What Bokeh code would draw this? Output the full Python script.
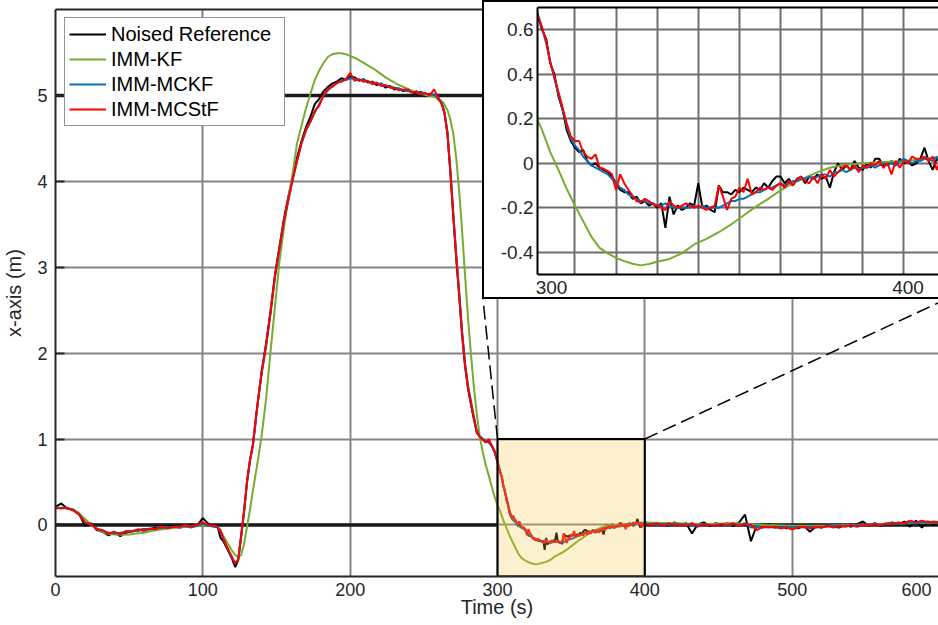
from bokeh.plotting import figure
from bokeh.models import Range1d, FixedTicker, LinearAxis
from bokeh.embed import file_html
from bokeh.resources import INLINE

# ---------------- data ----------------
# sampling instants of the noised reference and of the MCKF / MCStF estimates
T_EST = [*range(0, 109, 4), *range(110, 141, 2), *range(143, 261, 3),
         *range(262, 301, 2), *range(301, 401), *range(404, 601, 4)]

NOISED_REF = [
    0.21, 0.25, 0.19, 0.18, 0.13, -0.01, 0.02, -0.06, -0.08, -0.12, -0.09, -0.13, -0.09, -0.07,
    -0.06, -0.05, -0.05, -0.03, -0.04, -0.03, -0.01, -0.03, -0.02, -0.01, -0.01, 0.08, 0.01, -0.02,
    -0.02, -0.15, -0.19, -0.26, -0.33, -0.40, -0.49, -0.41, -0.13, 0.16, 0.50, 0.75, 0.94, 1.24, 1.53, 1.80,
    2.12, 2.50, 2.92, 3.24, 3.56, 3.82, 4.05, 4.28, 4.47, 4.63, 4.75, 4.90, 4.96, 5.05, 5.10, 5.14, 5.16, 5.20,
    5.18, 5.22, 5.21, 5.17, 5.19, 5.15, 5.16, 5.12, 5.14, 5.09, 5.11, 5.07, 5.08, 5.05, 5.06, 5.04, 5.02, 5.04,
    5.01, 5.02, 5.00, 4.95,
    4.92, 4.80, 4.55, 4.10, 3.58, 3.10, 2.66, 2.20, 1.84, 1.58, 1.40, 1.23, 1.07, 1.03, 1.00, 0.97, 0.98, 0.92,
    0.85, 0.74,
    0.66, 0.60, 0.56, 0.45, 0.40, 0.30, 0.24, 0.15, 0.10, 0.07,
    0.05, 0.06, 0.01, -0.01, 0.00, -0.02, -0.03, -0.04, -0.06, -0.09,
    -0.12, -0.13, -0.13, -0.16, -0.15, -0.18, -0.17, -0.19, -0.18, -0.20,
    -0.18, -0.29, -0.15, -0.23, -0.19, -0.21, -0.20, -0.18, -0.19, -0.09,
    -0.20, -0.19, -0.21, -0.22, -0.10, -0.13, -0.13, -0.14, -0.12, -0.13,
    -0.11, -0.12, -0.13, -0.11, -0.12, -0.09, -0.11, -0.08, -0.06, -0.06,
    -0.09, -0.07, -0.10, -0.07, -0.06, -0.09, -0.06, -0.07, -0.05, -0.07,
    -0.06, -0.11, -0.04, 0.00, -0.03, -0.01, -0.03, 0.01, -0.02, -0.03,
    0.00, -0.02, 0.02, 0.02, -0.01, 0.00, 0.01, -0.01, 0.02, 0.00,
    0.01, -0.01, 0.00, 0.02, 0.07, 0.01, -0.03, 0.02, 0.00, 0.03,
    0.02, 0.00, 0.01, -0.01, 0.03, 0.00, 0.02, -0.10, 0.01, 0.03,
    -0.01, 0.02, 0.00, 0.02, -0.01, 0.03, 0.12, -0.19, 0.00, -0.03,
    0.01, -0.03, -0.01, -0.04, -0.02, -0.04, -0.01, -0.08, -0.02, -0.03,
    0.00, -0.02, -0.03, 0.00, -0.02, 0.01, 0.04, -0.01, 0.02, -0.01,
    0.01, 0.03, 0.00, 0.04, -0.02, 0.05, -0.03, 0.04, 0.00, 0.05,
]

IMM_MCKF = [
    0.19, 0.20, 0.19, 0.17, 0.13, 0.03, 0.00, -0.04, -0.07, -0.09, -0.10, -0.09, -0.08, -0.07,
    -0.07, -0.05, -0.05, -0.04, -0.03, -0.03, -0.02, -0.02, -0.01, -0.03, -0.01, 0.01, -0.01, -0.02,
    -0.02, -0.07, -0.16, -0.24, -0.32, -0.39, -0.44, -0.41, -0.14, 0.15, 0.50, 0.74, 0.92, 1.23, 1.52, 1.77,
    2.09, 2.47, 2.89, 3.21, 3.53, 3.78, 4.02, 4.24, 4.44, 4.59, 4.70, 4.80, 4.90, 5.00, 5.06, 5.11, 5.14, 5.17,
    5.18, 5.20, 5.19, 5.18, 5.18, 5.16, 5.15, 5.14, 5.13, 5.11, 5.10, 5.09, 5.08, 5.06, 5.05, 5.04, 5.04, 5.03,
    5.02, 5.01, 5.01, 4.97,
    4.91, 4.81, 4.58, 4.14, 3.63, 3.15, 2.71, 2.25, 1.88, 1.62, 1.44, 1.26, 1.09, 1.03, 1.00, 0.97, 0.96, 0.92,
    0.86, 0.74,
    0.67, 0.61, 0.54, 0.46, 0.38, 0.31, 0.24, 0.17, 0.11, 0.08,
    0.06, 0.03, 0.01, -0.01, -0.02, -0.03, -0.04, -0.05, -0.07, -0.09,
    -0.11, -0.12, -0.14, -0.15, -0.16, -0.17, -0.17, -0.18, -0.18, -0.19,
    -0.19, -0.18, -0.19, -0.20, -0.20, -0.20, -0.20, -0.20, -0.19, -0.20,
    -0.19, -0.20, -0.20, -0.20, -0.20, -0.19, -0.18, -0.17, -0.17, -0.16,
    -0.16, -0.15, -0.14, -0.13, -0.13, -0.12, -0.11, -0.11, -0.10, -0.09,
    -0.10, -0.09, -0.08, -0.08, -0.07, -0.07, -0.06, -0.07, -0.06, -0.05,
    -0.05, -0.06, -0.04, -0.04, -0.03, -0.04, -0.03, -0.02, -0.03, -0.02,
    -0.02, -0.01, -0.02, -0.01, 0.00, -0.01, 0.00, -0.01, 0.01, 0.02,
    0.01, 0.00, 0.01, 0.01, 0.02, 0.02, 0.01, 0.03, -0.01, 0.01,
    0.01, 0.00, 0.01, 0.00, 0.01, 0.00, 0.01, -0.01, 0.00, 0.01,
    0.00, 0.00, 0.01, -0.01, 0.01, 0.00, 0.02, -0.03, -0.02, -0.03,
    -0.02, -0.03, -0.03, -0.02, -0.03, -0.02, -0.03, -0.02, -0.03, -0.02,
    -0.02, -0.01, -0.02, -0.01, -0.01, 0.00, -0.01, 0.00, 0.01, 0.00,
    0.01, 0.02, 0.01, 0.02, 0.03, 0.02, 0.03, 0.04, 0.03, 0.03,
]

IMM_MCSTF = [
    0.20, 0.19, 0.20, 0.17, 0.12, 0.03, 0.01, -0.05, -0.06, -0.10, -0.08, -0.11, -0.07, -0.08,
    -0.05, -0.07, -0.04, -0.05, -0.02, -0.04, -0.02, -0.03, 0.00, -0.02, 0.00, 0.03, 0.00, -0.01,
    -0.03, -0.06, -0.17, -0.24, -0.31, -0.38, -0.45, -0.40, -0.12, 0.17, 0.52, 0.76, 0.93, 1.25, 1.52, 1.78,
    2.10, 2.48, 2.90, 3.22, 3.54, 3.78, 4.03, 4.24, 4.45, 4.60, 4.69, 4.82, 4.88, 5.00, 5.08, 5.10, 5.15, 5.16,
    5.19, 5.26, 5.17, 5.19, 5.16, 5.17, 5.13, 5.15, 5.11, 5.12, 5.09, 5.09, 5.06, 5.07, 5.07, 5.03, 5.05, 5.01,
    5.03, 5.00, 5.07, 4.96,
    4.90, 4.79, 4.57, 4.12, 3.60, 3.12, 2.68, 2.22, 1.86, 1.60, 1.42, 1.24, 1.08, 1.02, 0.99, 0.96, 1.00, 0.93,
    0.86, 0.73,
    0.66, 0.61, 0.55, 0.45, 0.39, 0.32, 0.25, 0.18, 0.12, 0.10,
    0.10, 0.05, 0.03, 0.02, 0.04, -0.02, -0.025, -0.035, -0.05, -0.12,
    -0.05, -0.09, -0.12, -0.145, -0.17, -0.175, -0.16, -0.17, -0.185, -0.19,
    -0.20, -0.21, -0.17, -0.19, -0.20, -0.19, -0.18, -0.19, -0.20, -0.19,
    -0.20, -0.21, -0.20, -0.19, -0.10, -0.15, -0.21, -0.16, -0.15, -0.11,
    -0.13, -0.07, -0.14, -0.13, -0.11, -0.12, -0.11, -0.12, -0.10, -0.09,
    -0.11, -0.08, -0.10, -0.07, -0.06, -0.08, -0.09, -0.06, -0.09, -0.05,
    -0.07, -0.03, -0.06, -0.04, -0.02, -0.01, -0.03, -0.01, -0.04, -0.01,
    -0.02, 0.00, -0.01, 0.01, -0.02, 0.00, -0.05, 0.01, -0.02, 0.01,
    0.00, 0.03, 0.02, 0.02, 0.03, 0.01, 0.03, -0.03, 0.02, 0.01,
    0.00, 0.02, -0.01, 0.02, 0.00, 0.01, -0.01, 0.02, -0.02, 0.01,
    0.00, -0.01, 0.01, 0.00, 0.02, -0.01, 0.01, 0.00, -0.06, -0.02,
    -0.03, -0.02, -0.04, -0.03, -0.05, -0.03, -0.02, -0.04, -0.02, -0.03,
    -0.01, -0.03, -0.01, -0.02, 0.00, -0.02, 0.00, -0.01, 0.01, 0.00,
    0.02, 0.01, 0.03, 0.02, 0.05, 0.03, 0.05, 0.03, 0.04, 0.03,
]

# the smooth IMM-KF estimate, own sampling instants
T_KF = [0, 5, 10, 15, 20, 25, 30, 35, 40, 45,
        50, 55, 60, 65, 70, 75, 80, 85, 90, 95,
        100, 105, 110, 113, 116, 119, 122, 124, 126, 128,
        130, 132, 134, 136, 138, 140, 143, 146, 149, 152,
        155, 158, 161, 164, 167, 170, 173, 176, 179, 182,
        185, 188, 191, 194, 197, 200, 204, 208, 212, 216,
        220, 224, 228, 232, 236, 240, 244, 248, 252, 256,
        260, 263, 266, 268, 270, 272, 274, 276, 278, 280,
        282, 284, 286, 288, 290, 292, 294, 296, 298, 300,
        302, 304, 306, 308, 310, 312, 314, 316, 318, 320,
        322, 324, 326, 328, 330, 333, 336, 339, 342, 345,
        348, 351, 354, 357, 360, 363, 366, 369, 372, 375,
        380, 385, 390, 395, 400, 420, 440, 460, 480, 500,
        520, 540, 560, 580, 600]
IMM_KF = [0.20, 0.20, 0.19, 0.15, 0.07, -0.01, -0.07, -0.10, -0.11, -0.115,
          -0.11, -0.10, -0.09, -0.07, -0.055, -0.045, -0.035, -0.025, -0.02, -0.015,
          -0.01, -0.01, -0.03, -0.10, -0.19, -0.28, -0.35, -0.375, -0.35, -0.22,
          -0.02, 0.18, 0.40, 0.61, 0.82, 1.05, 1.48, 2.03, 2.55, 3.07,
          3.45, 3.80, 4.10, 4.45, 4.65, 4.85, 5.02, 5.18, 5.29, 5.38,
          5.45, 5.48, 5.49, 5.49, 5.48, 5.46, 5.43, 5.39, 5.35, 5.31,
          5.26, 5.21, 5.17, 5.13, 5.10, 5.07, 5.04, 5.02, 5.00, 4.99,
          4.96, 4.92, 4.83, 4.72, 4.55, 4.27, 3.88, 3.42, 2.90, 2.40,
          1.98, 1.60, 1.28, 1.02, 0.85, 0.70, 0.58, 0.45, 0.33, 0.23,
          0.15, 0.05, -0.03, -0.115, -0.19, -0.26, -0.33, -0.38, -0.405, -0.425,
          -0.44, -0.452, -0.459, -0.453, -0.443, -0.43, -0.405, -0.365, -0.34, -0.31,
          -0.275, -0.235, -0.195, -0.16, -0.122, -0.09, -0.065, -0.04, -0.02, -0.009,
          0.0, 0.006, 0.009, 0.02, 0.03, 0.02, 0.01, 0.02, 0.0, -0.01,
          -0.01, 0.0, 0.01, 0.02, 0.03]

SERIES_NAMES = ["Noised Reference", "IMM-KF", "IMM-MCKF", "IMM-MCStF"]
SERIES_COLORS = ["#000000", "#77AC30", "#0072BD", "#FF0000"]

REF_LEVELS = [0, 5]                 # thick reference lines
MAIN_YTICKS = [0, 1, 2, 3, 4, 5]
MAIN_XGRID = [100, 200, 300, 400, 500]
MAIN_XTICK_POS = [0, 100, 200, 300, 400, 500, 584.4]
MAIN_XTICK_LABELS = ["0", "100", "200", "300", "400", "500", "600"]

ZOOM_X = (300, 400)                 # highlighted region
ZOOM_TOP = 1.0

INSET_X = (300.9, 398.9)
INSET_Y = (-0.5, 0.7)
INSET_XGRID = [310, 320, 330, 340, 350, 360, 370, 380, 390]
INSET_XTICK_POS = [304.3, 391.0]
INSET_XTICK_LABELS = ["300", "400"]
INSET_YTICKS = [-0.4, -0.2, 0, 0.2, 0.4, 0.6]
INSET_YTICK_LABELS = ["-0.4", "-0.2", "0", "0.2", "0.4", "0.6"]

# ---------------- layout constants ----------------
W, H = 938, 625
FL, FR, FT, FB = 54, 938, 9, 576            # main frame edges (px)
X0, X1 = 0, 599.3
Y0, Y1 = -0.6, 6.0
INSET_LEFT_PX, INSET_BOTTOM_PX, INSET_RIGHT_PX = 482, 299, 945

FONT = "Liberation Sans"
TXT = "#262626"


def px_to_data(px, py):
    x = X0 + (px - FL) / (FR - FL) * (X1 - X0)
    y = Y1 - (py - FT) / (FB - FT) * (Y1 - Y0)
    return x, y


# ---------------- main figure ----------------
p = figure(width=W, height=H, x_range=Range1d(X0, X1), y_range=Range1d(Y0, Y1),
           output_backend="svg", toolbar_location=None,
           min_border_left=FL, min_border_right=W - FR, min_border_top=FT,
           min_border_bottom=H - FB, outline_line_color=None,
           x_axis_label="Time (s)", y_axis_label="x-axis (m)")

xa = p.xaxis[0]
xa.ticker = FixedTicker(ticks=MAIN_XTICK_POS)
xa.major_label_overrides = dict(zip(MAIN_XTICK_POS, MAIN_XTICK_LABELS))
xa.major_tick_in = 0
xa.major_tick_out = 0
xa.minor_tick_line_color = None
xa.major_label_standoff = 6
xa.axis_label_standoff = -3

ya = p.yaxis[0]
ya.ticker = FixedTicker(ticks=MAIN_YTICKS)
ya.major_tick_in = 9
ya.major_tick_out = 0
ya.major_tick_line_width = 2
ya.major_tick_line_color = TXT
ya.minor_tick_line_color = None
ya.major_label_standoff = 8
ya.axis_label_standoff = 9

for ax in (xa, ya):
    ax.axis_line_width = 2
    ax.axis_line_color = TXT
    ax.major_label_text_font = FONT
    ax.major_label_text_font_size = "18px"
    ax.major_label_text_color = TXT
    ax.axis_label_text_font = FONT
    ax.axis_label_text_font_size = "20px"
    ax.axis_label_text_font_style = "normal"
    ax.axis_label_text_color = TXT

top_axis = LinearAxis(ticker=FixedTicker(ticks=[]), major_tick_in=0, major_tick_out=0,
                      minor_tick_line_color=None, major_label_text_font_size="0px",
                      major_label_standoff=0, axis_line_width=2, axis_line_color=TXT)
p.add_layout(top_axis, "above")

p.xgrid[0].ticker = FixedTicker(ticks=MAIN_XGRID)
p.ygrid[0].ticker = FixedTicker(ticks=MAIN_YTICKS)
for g in (p.xgrid[0], p.ygrid[0]):
    g.grid_line_color = "#858585"
    g.grid_line_width = 2

# thick reference lines (the one at 0 is interrupted by the zoom box)
p.segment(x0=[X0, X0, ZOOM_X[1]], x1=[X1, ZOOM_X[0], X1],
          y0=[REF_LEVELS[1], REF_LEVELS[0], REF_LEVELS[0]],
          y1=[REF_LEVELS[1], REF_LEVELS[0], REF_LEVELS[0]],
          line_color="#1a1a1a", line_width=3.5)

series = [(T_EST, NOISED_REF), (T_KF, IMM_KF), (T_EST, IMM_MCKF), (T_EST, IMM_MCSTF)]
for (tx, vy), name, col in zip(series, SERIES_NAMES, SERIES_COLORS):
    p.line(tx, vy, line_color=col, line_width=2, legend_label=name)

# highlighted zoom region
p.quad(left=[ZOOM_X[0]], right=[ZOOM_X[1]], bottom=[Y0], top=[ZOOM_TOP],
       fill_color="#F8C43C", fill_alpha=0.25, line_color="black", line_width=2)

# dashed connectors to the inset
lx, ly = px_to_data(INSET_LEFT_PX, INSET_BOTTOM_PX)
rx, ry = px_to_data(INSET_RIGHT_PX, INSET_BOTTOM_PX)
p.line([ZOOM_X[0], lx], [ZOOM_TOP, ly], line_color="black", line_width=1.5, line_dash="14 6")
p.line([ZOOM_X[1], rx], [ZOOM_TOP, ry], line_color="black", line_width=1.5, line_dash="14 6")

lg = p.legend[0]
lg.location = (9, 450)
lg.margin = 0
lg.padding = 4
lg.spacing = 1
lg.glyph_width = 37
lg.glyph_height = 24
lg.label_height = 24
lg.label_width = 169
lg.label_standoff = 5
lg.label_text_font = FONT
lg.label_text_font_size = "20px"
lg.label_text_color = "black"
lg.border_line_color = TXT
lg.border_line_width = 1.5
lg.background_fill_alpha = 1.0

# ---------------- inset ----------------
inset = figure(width=456, height=299, x_range=Range1d(*INSET_X), y_range=Range1d(*INSET_Y),
               output_backend="svg", toolbar_location=None,
               min_border_left=53, min_border_right=0, min_border_top=5, min_border_bottom=27,
               outline_line_color=None,
               styles={"position": "absolute", "left": "482px", "top": "0px",
                       "border": "2px solid black", "border-right": "none",
                       "background-color": "white", "z-index": "10"})

ixa = inset.xaxis[0]
ixa.ticker = FixedTicker(ticks=INSET_XTICK_POS)
ixa.major_label_overrides = dict(zip(INSET_XTICK_POS, INSET_XTICK_LABELS))
ixa.major_label_standoff = 6
iya = inset.yaxis[0]
iya.ticker = FixedTicker(ticks=INSET_YTICKS)
iya.major_label_overrides = dict(zip(INSET_YTICKS, INSET_YTICK_LABELS))
iya.major_label_standoff = 4
for ax in (ixa, iya):
    ax.major_tick_in = 0
    ax.major_tick_out = 0
    ax.minor_tick_line_color = None
    ax.axis_line_width = 2
    ax.axis_line_color = "black"
    ax.major_label_text_font = FONT
    ax.major_label_text_font_size = "19px"
    ax.major_label_text_color = TXT

itop = LinearAxis(ticker=FixedTicker(ticks=[]), major_tick_in=0, major_tick_out=0,
                  minor_tick_line_color=None, major_label_text_font_size="0px",
                  major_label_standoff=0, axis_line_width=2, axis_line_color="black")
inset.add_layout(itop, "above")

inset.xgrid[0].ticker = FixedTicker(ticks=INSET_XGRID)
inset.ygrid[0].ticker = FixedTicker(ticks=INSET_YTICKS)
for g in (inset.xgrid[0], inset.ygrid[0]):
    g.grid_line_color = "#6e6e6e"
    g.grid_line_width = 2

for (tx, vy), col in zip(series, SERIES_COLORS):
    inset.line(tx, vy, line_color=col, line_width=2)

open("out.html", "w").write(file_html((p, inset), INLINE))
